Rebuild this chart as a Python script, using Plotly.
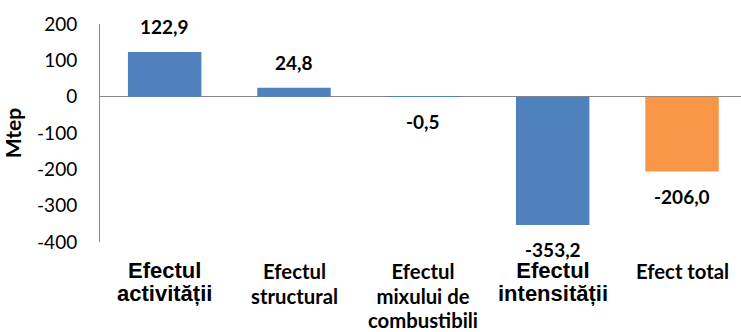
import plotly.graph_objects as go

categories = ["Efectul activității", "Efectul structural", "Efectul mixului de combustibili",
              "Efectul intensității", "Efect total"]
label_lines = [["Efectul", "activității"], ["Efectul", "structural"],
               ["Efectul", "mixului de", "combustibili"], ["Efectul", "intensității"],
               ["Efect total"]]
big_label = [True, False, False, True, False]
values = [122.9, 24.8, -0.5, -353.2, -206.0]
value_labels = ["122,9", "24,8", "-0,5", "-353,2", "-206,0"]
colors = ["#4F81BD", "#4F81BD", "#4F81BD", "#4F81BD", "#F79646"]
y_ticks = [200, 100, 0, -100, -200, -300, -400]
y_title = "Mtep"

x = list(range(len(categories)))

fig = go.Figure()
fig.add_trace(go.Bar(x=x, y=values, marker=dict(color=colors, line=dict(width=0)),
                     hoverinfo="skip", showlegend=False))

annotations = []
# value labels
for i, (v, t) in enumerate(zip(values, value_labels)):
    pos = v >= 0
    annotations.append(dict(
        x=i, y=v, xref="x", yref="y", text=t, showarrow=False,
        yanchor="bottom" if pos else "top", xanchor="center",
        yshift=12 if pos else -11,
        font=dict(family="Lato", size=19, color="#000000", weight="bold"),
    ))
# category labels
for i, (lines, big) in enumerate(zip(label_lines, big_label)):
    if big:
        txt = "<br>".join("<span style='font-size:22px'>%s</span>" % l for l in lines)
        font = dict(family="Liberation Sans", size=17.7, color="#000000", weight="bold")
        ys = -14
    else:
        txt = "<br>".join("<span style='font-size:20.3px'>%s</span>" % l for l in lines)
        font = dict(family="Lato", size=19, color="#000000", weight="bold")
        ys = -14.5
    annotations.append(dict(
        x=i, y=0, xref="x", yref="paper", text=txt, showarrow=False,
        yanchor="top", xanchor="center", yshift=ys, align="center", font=font,
    ))

fig.update_layout(
    width=741, height=332,
    margin=dict(l=100, r=0, t=24, b=90, pad=0),
    paper_bgcolor="white", plot_bgcolor="white",
    bargap=0.432,
    annotations=annotations,
    xaxis=dict(range=[-0.5, 4.456], showticklabels=False, showgrid=False,
               zeroline=False, showline=False, ticks=""),
    yaxis=dict(range=[-400, 200], tickvals=y_ticks, ticktext=[str(t) for t in y_ticks],
               showgrid=False, zeroline=True, zerolinecolor="#868686", zerolinewidth=1,
               showline=True, linecolor="#868686", linewidth=1, ticks="",
               ticklabelstandoff=18,
               tickfont=dict(family="Lato", size=19, color="#000000"),
               title=dict(text=y_title, standoff=9,
                          font=dict(family="Lato", size=21, color="#000000", weight="bold"))),
)

fig.write_html("out.html")
